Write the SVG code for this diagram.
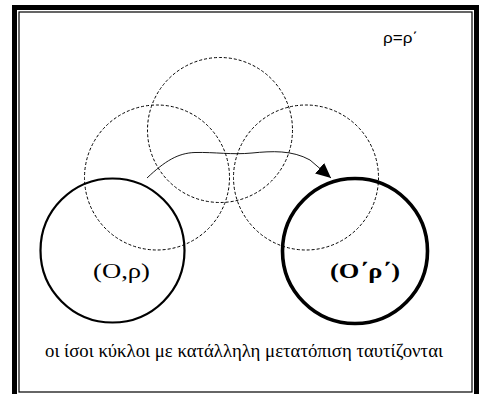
<svg xmlns="http://www.w3.org/2000/svg" width="483" height="394" viewBox="0 0 483 394">
<style>
.frame-outer{fill:none;stroke:#000;stroke-width:5}
.frame-inner{fill:none;stroke:#000;stroke-width:1.2}
.dash{fill:none;stroke:#000;stroke-width:1;stroke-dasharray:3,2}
.solid{fill:none;stroke:#000;stroke-width:2.2}
.bold{fill:none;stroke:#000;stroke-width:3.6}
.conn{fill:none;stroke:#000;stroke-width:0.9}
.serif{font-family:"Liberation Serif","Times New Roman",serif;fill:#000}
.sans{font-family:"Liberation Sans",Arial,sans-serif;fill:#000}
</style>
<defs>
<marker id="arr" markerWidth="16" markerHeight="14" refX="15" refY="7" orient="auto" markerUnits="userSpaceOnUse">
<path d="M0,0 L15,7 L0,14 Z" fill="#000"/>
</marker>
</defs>
<rect width="483" height="394" fill="#fff"/>
<rect class="frame-outer" x="14.5" y="7.5" width="462" height="392"/>
<rect class="frame-inner" x="19" y="12" width="453" height="380"/>
<text class="sans" x="383" y="43" font-size="14" textLength="35" lengthAdjust="spacingAndGlyphs">ρ=ρ΄</text>
<g id="dashed-top"><circle class="dash" cx="220" cy="130" r="72.5"/></g>
<g id="dashed-left"><circle class="dash" cx="157" cy="177.5" r="72.5"/></g>
<g id="dashed-right"><circle class="dash" cx="306" cy="177.5" r="72.5"/></g>
<g id="circle-O"><circle class="solid" cx="112.5" cy="250.5" r="72"/>
<text class="serif" x="93" y="278" font-size="21" textLength="57" lengthAdjust="spacingAndGlyphs">(O,ρ)</text></g>
<g id="circle-O2"><circle class="bold" cx="355" cy="251" r="72.5"/>
<text class="serif" x="330" y="278" font-size="21" font-weight="bold" textLength="70" lengthAdjust="spacingAndGlyphs">(O΄ρ΄)</text></g>
<g id="connectors">
<path class="conn" d="M147,178 C165,161 178,153 195,152.5 C215,152 232,155 252,153 C272,151 292,150 310,160 L331,178" marker-end="url(#arr)"/>
</g>
<text class="serif" x="45" y="357" font-size="18" textLength="398" lengthAdjust="spacingAndGlyphs">οι ίσοι κύκλοι με κατάλληλη μετατόπιση ταυτίζονται</text>
</svg>
